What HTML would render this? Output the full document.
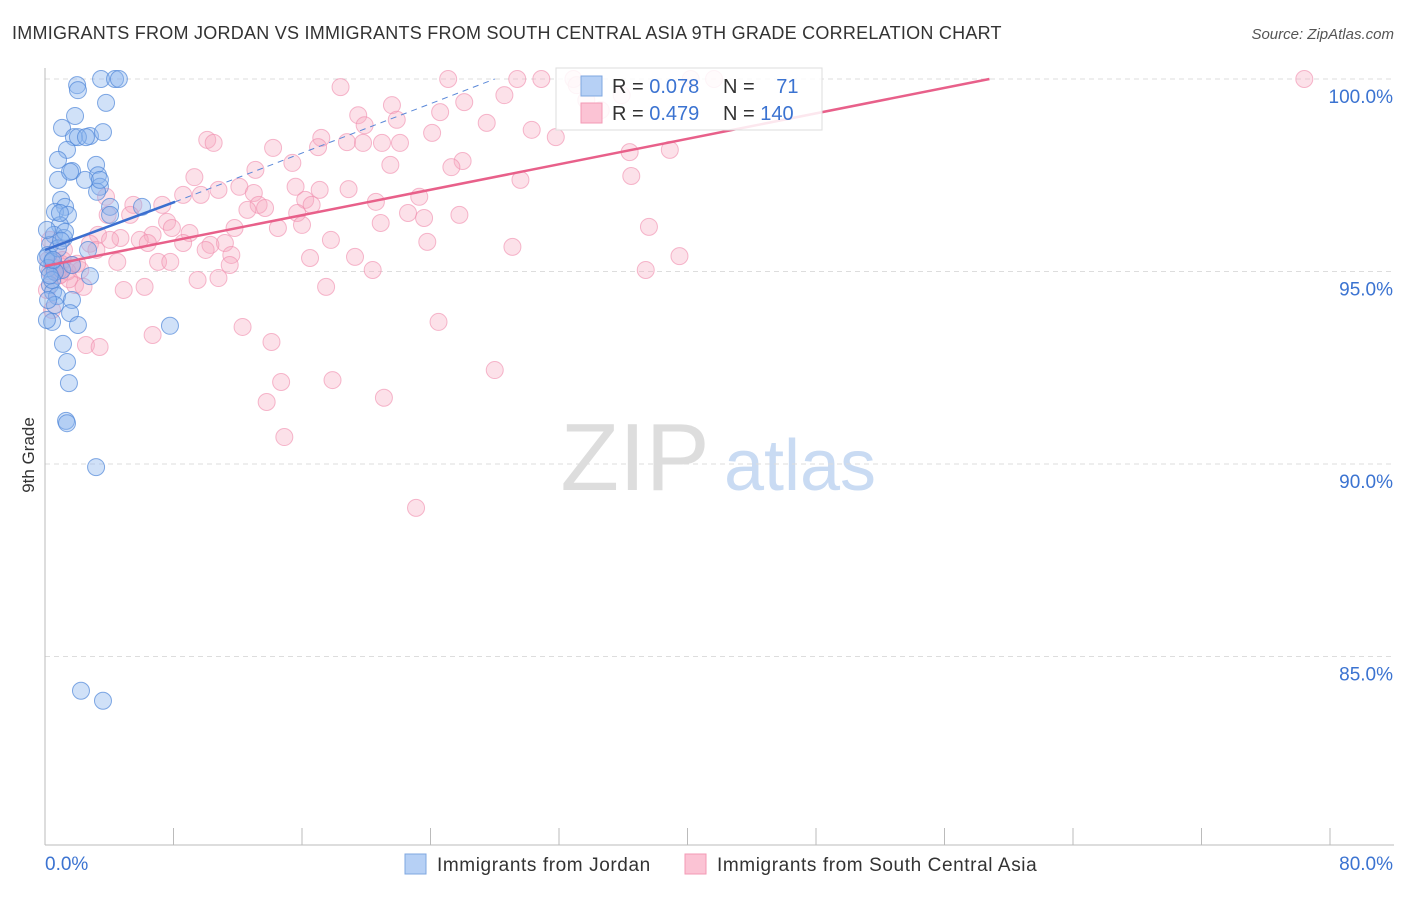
<!DOCTYPE html>
<html><head><meta charset="utf-8"><style>
body{margin:0;background:#fff;font-family:"Liberation Sans",sans-serif;}
svg text{font-family:"Liberation Sans",sans-serif;}
</style></head><body>
<svg id="c" width="1406" height="892" xmlns="http://www.w3.org/2000/svg">
<text x="12" y="39" font-size="18" letter-spacing="0.25" fill="#333">IMMIGRANTS FROM JORDAN VS IMMIGRANTS FROM SOUTH CENTRAL ASIA 9TH GRADE CORRELATION CHART</text>
<text x="1394" y="39" font-size="15" fill="#555" font-style="italic" text-anchor="end">Source: ZipAtlas.com</text>
<text transform="translate(34,455) rotate(-90)" font-size="17" fill="#333" text-anchor="middle">9th Grade</text>
<g>
<text x="635" y="490" font-size="96" fill="#ddd" font-family="Liberation Serif" text-anchor="middle">ZIP</text>
<text x="800" y="490" font-size="72" fill="#c9dbf3" text-anchor="middle">atlas</text>
</g>
<g id="grid"></g><g id="axes"></g><g id="pts"></g><g id="lines"></g>
<g>
<rect x="556" y="68" width="266" height="62" fill="#fff" fill-opacity="0.85" stroke="#ddd"/>
<rect x="581" y="76" width="21" height="20" fill="#b6d0f5" stroke="#7fa7e0"/>
<rect x="581" y="103" width="21" height="20" fill="#fbc3d4" stroke="#f39ab5"/>
<text x="612" y="93" font-size="20" fill="#333">R = <tspan fill="#3b73d1">0.078</tspan></text>
<text x="723" y="93" font-size="20" fill="#333">N = <tspan fill="#3b73d1" dx="16">71</tspan></text>
<text x="612" y="120" font-size="20" fill="#333">R = <tspan fill="#3b73d1">0.479</tspan></text>
<text x="723" y="120" font-size="20" fill="#333">N = <tspan fill="#3b73d1">140</tspan></text>
</g>
<g>
<rect x="405" y="854" width="21" height="20" fill="#b6d0f5" stroke="#7fa7e0"/>
<text x="437" y="871" font-size="19" letter-spacing="0.6" fill="#333">Immigrants from Jordan</text>
<rect x="685" y="854" width="21" height="20" fill="#fbc3d4" stroke="#f39ab5"/>
<text x="717" y="871" font-size="19" letter-spacing="0.6" fill="#333">Immigrants from South Central Asia</text>
</g>
</svg>
<script>
const yTicks=[100,95,90,85];
const yTickLabels=["100.0%","95.0%","90.0%","85.0%"];
const xTicks=[0,8,16,24,32,40,48,56,64,72,80];
const xEndLabels=["0.0%","80.0%"];
const jordanX=[2.0,2.05,3.49,4.36,4.6,3.8,1.87,1.06,2.8,1.8,2.05,1.37,0.81,3.18,1.68,3.3,2.49,0.81,3.42,3.24,1.0,1.25,4.05,6.04,0.62,1.43,4.05,0.93,0.56,1.18,0.31,2.68,0.19,0.44,0.19,1.06,2.8,0.31,0.5,0.75,1.68,0.62,1.56,0.44,2.05,7.78,1.12,1.37,1.49,1.31,3.18,2.24,3.61,0.19,0.06,0.62,0.12,0.81,1.68,3.61,2.55,1.56,3.42,0.12,0.44,0.93,1.25,1.37,0.3,0.5,1.0];
const jordanY=[99.84,99.71,100,100,100,99.38,99.04,98.73,98.52,98.49,98.49,98.16,97.9,97.77,97.61,97.5,97.38,97.38,97.2,97.07,96.86,96.68,96.68,96.68,96.55,96.47,96.47,96.2,95.95,95.87,95.69,95.56,95.43,95.25,95.09,95.04,94.88,94.65,94.47,94.36,94.26,94.13,93.92,93.69,93.61,93.59,93.12,92.65,92.1,91.12,89.92,84.11,83.85,94.26,95.35,94.99,96.08,95.6,95.17,98.62,98.49,97.59,97.38,93.74,94.78,96.52,96.03,91.06,94.9,95.3,95.8];
const scaX=[78.4,41.65,25.1,29.4,30.9,32.9,18.4,28.6,24.6,26.1,21.6,19.5,21.9,19.9,27.5,30.3,24.1,31.8,10.1,10.5,17.2,17.0,18.8,19.8,20.98,22.1,14.2,36.4,38.9,26.0,25.3,21.5,15.4,13.1,9.3,36.5,29.6,12.1,15.6,17.1,18.9,10.8,8.6,9.7,13.0,3.8,23.3,16.2,16.6,20.6,5.5,13.3,13.7,12.6,7.3,22.6,23.6,25.8,15.7,5.3,7.6,20.9,14.5,37.6,11.8,7.9,9.0,16.0,3.3,4.7,6.7,4.05,5.9,2.8,17.8,23.8,29.1,6.4,8.6,11.2,10.3,10.0,3.2,11.6,39.5,19.3,16.5,7.04,4.5,7.8,11.5,0.7,1.7,2.2,20.4,37.4,0.93,9.5,10.8,4.9,6.2,17.5,1.87,12.3,24.5,6.7,2.55,3.4,14.1,28.0,14.7,17.9,21.1,13.8,14.9,23.1,0.31,0.12,0.44,1.18,3.9,33.1,33.7,34.6,35.9,40.2,0.5,1.0,1.4,0.2,0.9,2.0,0.6,1.5,0.3,2.4,1.1,0.8];
const scaY=[100,100,100,100,100,100,99.79,99.58,99.14,99.4,99.32,99.06,98.94,98.8,98.86,98.68,98.6,98.49,98.42,98.34,98.47,98.23,98.36,98.34,98.34,98.34,98.21,98.1,98.16,97.87,97.71,97.77,97.82,97.64,97.45,97.48,97.38,97.2,97.2,97.12,97.14,97.12,96.99,96.99,97.04,96.94,96.94,96.86,96.73,96.81,96.73,96.73,96.65,96.6,96.73,96.52,96.39,96.47,96.52,96.47,96.29,96.26,96.13,96.16,96.13,96.13,96.0,96.21,95.95,95.87,95.95,95.82,95.82,95.72,95.82,95.77,95.64,95.74,95.74,95.74,95.69,95.56,95.56,95.43,95.4,95.38,95.35,95.25,95.25,95.25,95.17,95.25,95.17,95.04,95.04,95.04,94.91,94.78,94.83,94.52,94.6,94.6,94.65,93.56,93.69,93.35,93.09,93.04,93.17,92.44,92.13,92.18,91.72,91.61,90.7,88.86,95.82,94.52,94.0,95.56,96.47,99.84,99.45,99.19,99.58,100,95.1,95.2,95.0,95.3,94.9,95.2,95.1,94.8,95.0,94.6,95.3,95.0];
const pinkTrend=[[0,95.14],[58.8,100]];
const blueTrend=[[0,95.56],[8.1,96.81]];
const blueDash=[[8.1,96.81],[28.0,100]];
const X=v=>45+v/80*1285, Y=v=>79+(100-v)*38.5;
const NS="http://www.w3.org/2000/svg";
function mk(t,a,p){const e=document.createElementNS(NS,t);for(const k in a)e.setAttribute(k,a[k]);p.appendChild(e);return e;}
const grid=document.getElementById('grid'),axes=document.getElementById('axes'),pts=document.getElementById('pts'),lines=document.getElementById('lines');
yTicks.forEach((t,i)=>{
 const g=mk('line',{x1:45,x2:1394,y1:Y(t),y2:Y(t),stroke:'#ddd','stroke-dasharray':'5,4'},grid);
 
 
 const l=mk('text',{x:1393,y:Y(t)+24,'font-size':19,fill:'#3b73d1','text-anchor':'end'},axes);
 l.textContent=yTickLabels[i];
 
 
});
const ya=mk('line',{x1:45,x2:45,y1:68,y2:845,stroke:'#bbb'},axes);


const xa=mk('line',{x1:45,x2:1394,y1:845,y2:845,stroke:'#bbb'},axes);


xTicks.forEach(t=>{
 const k=mk('line',{x1:X(t),x2:X(t),y1:828,y2:845,stroke:'#bbb'},axes);
 
 
});
const xl0=mk('text',{x:45,y:870,'font-size':19,fill:'#3b73d1'},axes);xl0.textContent=xEndLabels[0];


const xl1=mk('text',{x:1393,y:870,'font-size':19,fill:'#3b73d1','text-anchor':'end'},axes);xl1.textContent=xEndLabels[1];


scaX.forEach((v,i)=>{
 const c=mk('circle',{cx:X(v),cy:Y(scaY[i]),r:8.5,fill:'#f7a8c0','fill-opacity':0.35,stroke:'#f08aab','stroke-opacity':0.6},pts);
 
 
});
jordanX.forEach((v,i)=>{
 const c=mk('circle',{cx:X(v),cy:Y(jordanY[i]),r:8.5,fill:'#8ab4ee','fill-opacity':0.4,stroke:'#4f86d8','stroke-opacity':0.7},pts);
 
 
});
const pl=mk('line',{x1:X(pinkTrend[0][0]),y1:Y(pinkTrend[0][1]),x2:X(pinkTrend[1][0]),y2:Y(pinkTrend[1][1]),stroke:'#e8608a','stroke-width':2.5},lines);


const bl=mk('line',{x1:X(blueTrend[0][0]),y1:Y(blueTrend[0][1]),x2:X(blueTrend[1][0]),y2:Y(blueTrend[1][1]),stroke:'#3b6fd0','stroke-width':2.5},lines);


const bd=mk('line',{x1:X(blueDash[0][0]),y1:Y(blueDash[0][1]),x2:X(blueDash[1][0]),y2:Y(blueDash[1][1]),stroke:'#5a88d8','stroke-width':1,'stroke-dasharray':'6,5'},lines);


</script>
</body></html>
